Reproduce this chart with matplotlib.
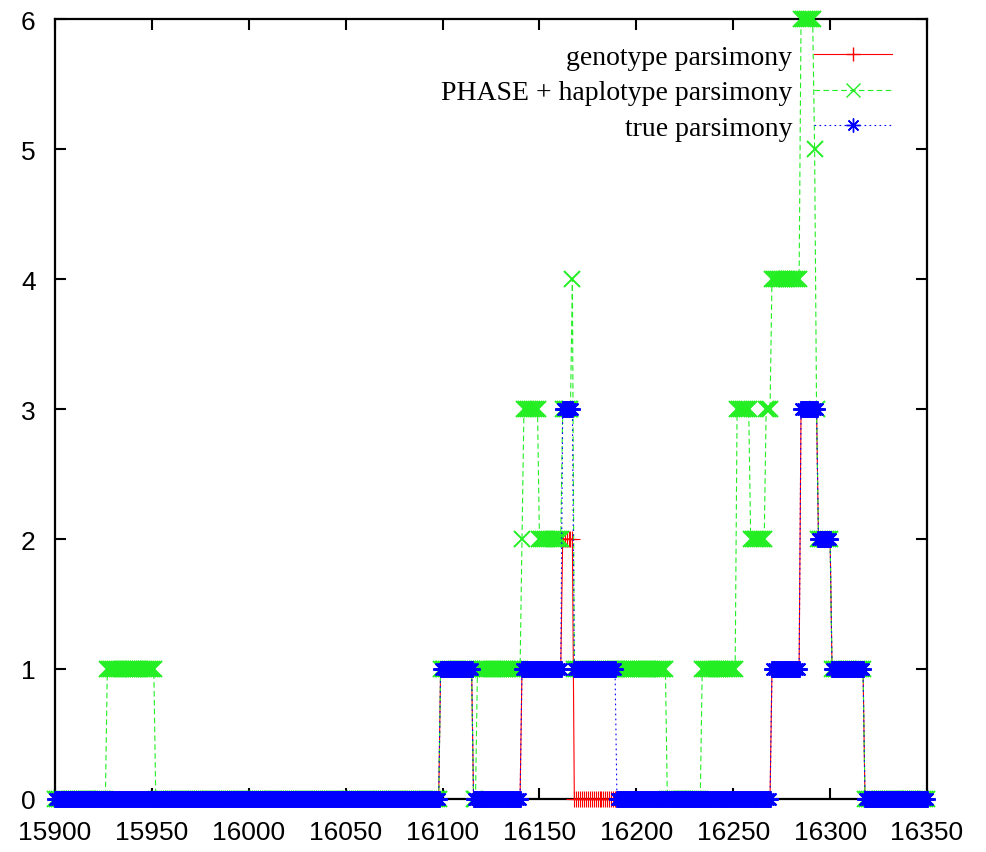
import numpy as np
import matplotlib
matplotlib.use("Agg")
import matplotlib.pyplot as plt

# one sample per site, 15900..16350
positions = np.arange(15900, 16351)

# step data: value holds from each start until the next one
geno_starts = [15900, 16099, 16116, 16141, 16162, 16168, 16270, 16285, 16294, 16301, 16318]
geno_values = [0, 1, 0, 1, 2, 0, 1, 3, 2, 1, 0]

phase_starts = [15900, 15927, 15952, 16099, 16116, 16118, 16141, 16142, 16150, 16162,
                16167, 16168, 16216, 16234, 16252, 16259, 16267, 16270, 16285, 16292,
                16293, 16294, 16301, 16318]
phase_values = [0, 1, 0, 1, 0, 1, 2, 3, 2, 3,
                4, 1, 0, 1, 3, 2, 3, 4, 6, 5,
                3, 2, 1, 0]

true_starts = [15900, 16099, 16116, 16141, 16162, 16168, 16190, 16270, 16285, 16294, 16301, 16318]
true_values = [0, 1, 0, 1, 3, 1, 0, 1, 3, 2, 1, 0]

labels = ["genotype parsimony", "PHASE + haplotype parsimony", "true parsimony"]
xticks = [15900, 15950, 16000, 16050, 16100, 16150, 16200, 16250, 16300, 16350]
yticks = [0, 1, 2, 3, 4, 5, 6]


def expand(starts, values):
    idx = np.searchsorted(starts, positions, side="right") - 1
    return np.asarray(values)[idx]


geno = expand(geno_starts, geno_values)
phase = expand(phase_starts, phase_values)
true = expand(true_starts, true_values)

fig = plt.figure(figsize=(9.87, 8.53), dpi=100)
ax = fig.add_axes([55 / 987, 53 / 853, 872 / 987, 780 / 853])

ax.plot(positions, geno, color="#ff0000", lw=0.8, ls="-", marker="+",
        ms=12, mew=0.8, clip_on=False, label=labels[0], zorder=3)
ax.plot(positions, phase, color="#22ee22", lw=0.8, ls=(0, (5, 3)), marker="x",
        ms=11, mew=1.4, clip_on=False, label=labels[1], zorder=4)
ax.plot(positions, true, color="#0000ff", lw=0.8, ls=(0, (1.5, 3)), marker=(8, 2, 0),
        ms=12, mew=1.4, clip_on=False, label=labels[2], zorder=5)

ax.set_xlim(15900, 16350)
ax.set_ylim(0, 6)
ax.set_xticks(xticks)
ax.set_yticks(yticks)
ax.tick_params(direction="in", top=True, right=True, length=8, width=1.5,
               labelsize=19)
ax.tick_params(axis="x", pad=15)
ax.tick_params(axis="y", pad=14)
for lab in ax.get_xticklabels() + ax.get_yticklabels():
    lab.set_family("Liberation Sans")
for s in ax.spines.values():
    s.set_linewidth(1.6)

leg = ax.legend(loc="upper right", bbox_to_anchor=(0.96, 0.967), markerfirst=False,
                frameon=False, numpoints=1, handlelength=2.8, handletextpad=0.8,
                labelspacing=0.35, borderpad=0, borderaxespad=0,
                prop={"family": "Liberation Serif", "size": 20})
for h in leg.legend_handles:
    h.set_markersize(10)
    h.set_markeredgewidth(1.0)

fig.savefig("out.png", dpi=100)
